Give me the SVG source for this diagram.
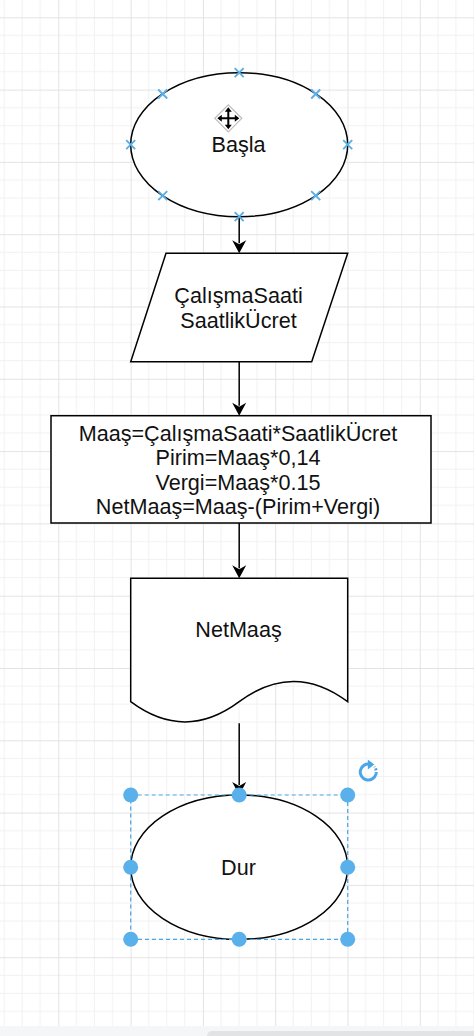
<svg xmlns="http://www.w3.org/2000/svg" width="474" height="1036" viewBox="0 0 474 1036">
<defs>
<pattern id="grid" patternUnits="userSpaceOnUse" x="-14" y="17.3" width="72.3" height="72.3">
<path d="M18.075,0V72.3M36.15,0V72.3M54.225,0V72.3M0,18.075H72.3M0,36.15H72.3M0,54.225H72.3" stroke="#f1f1f1" stroke-width="1" fill="none"/>
<path d="M0.5,0V72.3M0,0.5H72.3" stroke="#e3e3e3" stroke-width="1" fill="none"/>
</pattern>
<marker id="arr" markerUnits="userSpaceOnUse" markerWidth="20" markerHeight="20" refX="0" refY="0" orient="auto" overflow="visible">
<path d="M10,0 L-3,-7 L1,0 L-3,7 Z" fill="#000"/>
</marker>
<style>
.shape{fill:#fff;stroke:#000;stroke-width:1.5}
.lbl{font-family:"Liberation Sans",Arial,Helvetica,sans-serif;font-size:21.6px;fill:#111;text-anchor:middle}
.edge{stroke:#000;stroke-width:1.5;fill:none;marker-end:url(#arr)}
.hx{stroke:#5aaee6;stroke-width:1.9;fill:none}
.hd{fill:#5ab0ea}
</style>
</defs>
<rect x="0" y="0" width="474" height="1036" fill="#fff"/>
<rect x="0" y="0" width="474" height="1026" fill="url(#grid)"/>
<rect x="0" y="1026" width="474" height="10" fill="#f5f6f7"/>
<rect x="207" y="1031" width="280" height="10" rx="5" fill="#e2e3e5"/>

<g id="edges">
<line class="edge" x1="239.2" y1="216.7" x2="239.2" y2="243.3"/>
<line class="edge" x1="239.2" y1="361.7" x2="239.2" y2="405.7"/>
<line class="edge" x1="239.2" y1="523" x2="239.2" y2="568.3"/>
<line class="edge" x1="239.2" y1="723.3" x2="239.2" y2="785"/>
</g>

<g id="start">
<ellipse class="shape" cx="239.2" cy="144.7" rx="108.5" ry="72"/>
<text class="lbl" x="238.5" y="151.7">Başla</text>
</g>

<g id="input">
<polygon class="shape" points="166,253.3 347.7,253.3 311.7,361.7 130.7,361.7"/>
<text class="lbl" x="238.5" y="303.3">ÇalışmaSaati</text>
<text class="lbl" x="238.5" y="327.7">SaatlikÜcret</text>
</g>

<g id="process">
<rect class="shape" x="51" y="415.7" width="380" height="107.3"/>
<text class="lbl" x="238" y="440.7">Maaş=ÇalışmaSaati*SaatlikÜcret</text>
<text class="lbl" x="238" y="465.2">Pirim=Maaş*0,14</text>
<text class="lbl" x="238" y="489.8">Vergi=Maaş*0.15</text>
<text class="lbl" x="238" y="514.3">NetMaaş=Maaş-(Pirim+Vergi)</text>
</g>

<g id="output">
<path class="shape" d="M130.7,578.3 H347.7 V701.7 C311.5,674.7 275.3,674.7 239.2,701.7 C203,728.7 166.9,728.7 130.7,701.7 Z"/>
<text class="lbl" x="238.5" y="636.7">NetMaaş</text>
</g>

<g id="end">
<ellipse class="shape" cx="239.2" cy="867.2" rx="108.5" ry="72.2"/>
<text class="lbl" x="238.5" y="875">Dur</text>
</g>

<g id="start-hover">
<path class="hx" d="M234.7,68.2l9,9m0,-9l-9,9 M234.7,212.2l9,9m0,-9l-9,9 M126.2,140.2l9,9m0,-9l-9,9 M343.2,140.2l9,9m0,-9l-9,9 M158.2,89.5l9,9m0,-9l-9,9 M311.2,89.5l9,9m0,-9l-9,9 M158.2,191.2l9,9m0,-9l-9,9 M311.2,191.2l9,9m0,-9l-9,9"/>
<g transform="translate(228.3,118.3)">
<polygon points="0,-13.5 13.5,0 0,13.5 -13.5,0" fill="#fff" stroke="#bbb" stroke-width="1.2"/>
<path d="M0,-9 V9 M-9,0 H9" stroke="#000" stroke-width="2"/>
<path d="M0,-11 L-3.5,-6.5 L3.5,-6.5 Z M0,11 L-3.5,6.5 L3.5,6.5 Z M-11,0 L-6.5,-3.5 L-6.5,3.5 Z M11,0 L6.5,-3.5 L6.5,3.5 Z" fill="#000"/>
</g>
</g>

<g id="selection">
<rect x="130.7" y="795" width="217" height="144.3" fill="none" stroke="#4aa6e6" stroke-width="1.2" stroke-dasharray="4 3"/>
<circle class="hd" cx="130.7" cy="795" r="7.5"/>
<circle class="hd" cx="239.2" cy="795" r="7.5"/>
<circle class="hd" cx="347.7" cy="795" r="7.5"/>
<circle class="hd" cx="130.7" cy="867.2" r="7.5"/>
<circle class="hd" cx="347.7" cy="867.2" r="7.5"/>
<circle class="hd" cx="130.7" cy="939.3" r="7.5"/>
<circle class="hd" cx="239.2" cy="939.3" r="7.5"/>
<circle class="hd" cx="347.7" cy="939.3" r="7.5"/>
<g transform="translate(368.3,772)">
<path d="M2,-7.7 A8,8 0 1 0 7.7,2" fill="none" stroke="#4aa6e6" stroke-width="3"/>
<path d="M7.7,2 A8,8 0 0 0 6,-5.3" fill="none" stroke="#4aa6e6" stroke-width="3" stroke-dasharray="2 1.6"/>
<path d="M-0.5,-12.5 L6,-7.5 L-0.5,-2.5 Z" fill="#4aa6e6"/>
</g>
</g>
</svg>
